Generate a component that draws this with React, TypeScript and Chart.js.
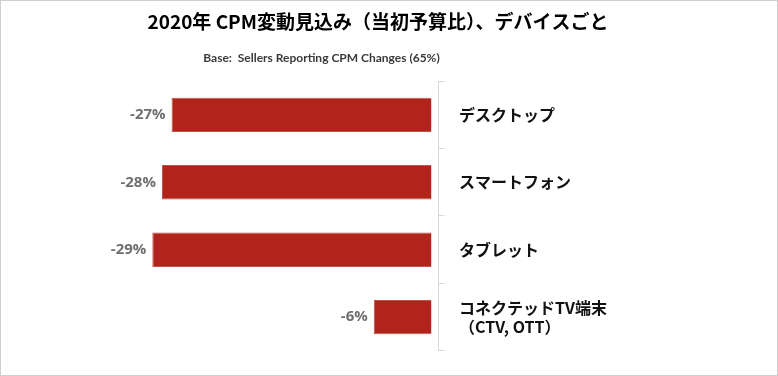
import React, { useEffect, useRef } from 'react';
import { Chart, registerables } from 'chart.js';

Chart.register(...registerables);

const titleText = '2020年 CPM変動見込み（当初予算比）、デバイスごと';
const subtitleText = 'Base:  Sellers Reporting CPM Changes (65%)';
const categories: (string | string[])[] = [
  'デスクトップ',
  'スマートフォン',
  'タブレット',
  ['コネクテッドTV端末', '（CTV, OTT）'],
];
const cpmChange = [-27, -28, -29, -6];
const xMin = -34;
const xMax = 0.73;

export default function App() {
  const ref = useRef<HTMLCanvasElement>(null);

  useEffect(() => {
    if (!ref.current) return;

    const headerPlugin = {
      id: 'headerText',
      afterDraw(chart: any) {
        const ctx = chart.ctx;
        ctx.save();
        ctx.textAlign = 'center';
        ctx.textBaseline = 'middle';
        ctx.fillStyle = '#000000';
        ctx.font = 'bold 19px "Noto Sans CJK JP"';
        ctx.fillText(titleText, 377, 21);
        ctx.fillStyle = '#3a3a3a';
        ctx.font = 'bold 12px Lato';
        ctx.fillText(subtitleText, 320.5, 57);
        ctx.restore();
      },
    };

    const valueLabels = {
      id: 'valueLabels',
      afterDatasetsDraw(chart: any) {
        const ctx = chart.ctx;
        const meta = chart.getDatasetMeta(0);
        ctx.save();
        ctx.font = 'bold 15px "Open Sans"';
        ctx.fillStyle = '#6f6f6f';
        ctx.textAlign = 'right';
        ctx.textBaseline = 'middle';
        meta.data.forEach((el: any, i: number) => {
          ctx.fillText(`${cpmChange[i]}%`, el.x - 6, el.y);
        });
        ctx.restore();
      },
    };

    const chart = new Chart(ref.current, {
      type: 'bar',
      data: {
        labels: categories as any,
        datasets: [
          {
            data: cpmChange,
            backgroundColor: '#B0241C',
            borderColor: '#c0504a',
            borderWidth: 1,
            categoryPercentage: 1,
            barPercentage: 0.51,
          },
        ],
      },
      options: {
        indexAxis: 'y',
        animation: false,
        responsive: true,
        maintainAspectRatio: false,
        layout: { padding: { left: 103.2, right: 0, top: 80.1, bottom: 18.7 } },
        plugins: {
          legend: { display: false },
          tooltip: { enabled: false },
          title: { display: false },
        },
        scales: {
          x: { type: 'linear', min: xMin, max: xMax, display: false },
          y: {
            position: 'right',
            grid: {
              drawOnChartArea: false,
              drawTicks: true,
              tickLength: 6,
              color: '#d9d9d9',
              offset: true,
            },
            border: { display: true, color: '#d9d9d9', width: 1 },
            ticks: {
              padding: 14.5,
              color: '#111111',
              font: { family: '"Noto Sans CJK JP"', size: 16, weight: 'bold', lineHeight: 1.2 },
            },
            afterFit(scale: any) {
              scale.width = 338.5;
            },
          },
        },
      },
      plugins: [headerPlugin, valueLabels],
    });

    return () => chart.destroy();
  }, []);

  return (
    <div
      style={{
        position: 'fixed',
        left: 0,
        top: 0,
        width: 778,
        height: 376,
        boxSizing: 'border-box',
        border: '1px solid #cfcfcf',
        background: '#ffffff',
      }}
    >
      <div style={{ position: 'relative', width: 776, height: 374 }}>
        <canvas ref={ref} />
      </div>
    </div>
  );
}
